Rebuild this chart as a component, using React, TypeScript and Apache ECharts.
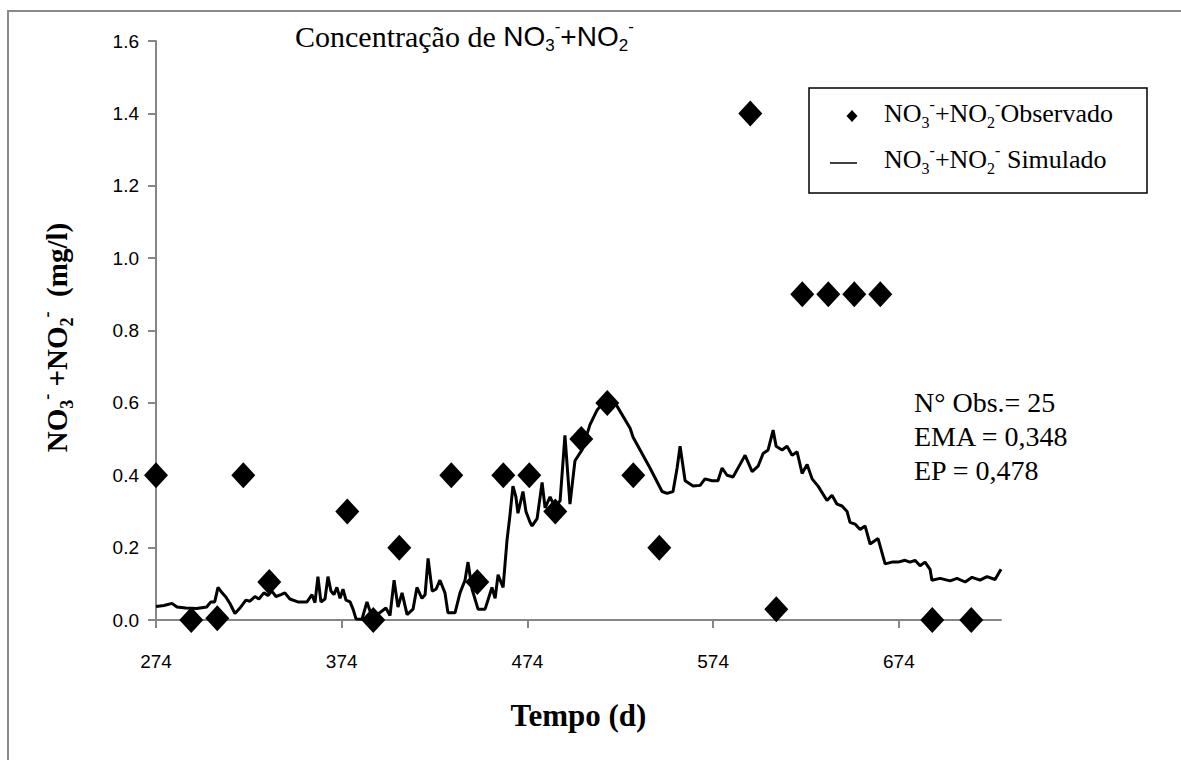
import React, { useEffect, useRef } from "react";
import * as echarts from "echarts";

// Observed NO3- + NO2- (mg/l) by day
const obsDays = [274, 293, 307, 321, 335, 377, 391, 405, 433, 447, 461, 475, 489, 503, 517, 531, 545, 594, 608, 622, 636, 650, 664, 692, 713];
const obsValues = [0.4, 0.0, 0.005, 0.4, 0.105, 0.3, 0.0, 0.2, 0.4, 0.105, 0.4, 0.4, 0.3, 0.5, 0.6, 0.4, 0.2, 1.4, 0.03, 0.9, 0.9, 0.9, 0.9, 0.0, 0.0];

// Simulated NO3- + NO2- (mg/l) by day
const simDays = [
  274.0, 278.3, 282.6, 285.3, 290.0, 295.9, 301.3, 303.5, 305.6, 307.4, 309.6, 311.7, 313.9, 316.5, 319.2, 322.4, 324.6, 327.3, 329.4, 332.1,
  334.3, 336.4, 338.6, 341.3, 343.4, 346.1, 350.4, 355.3, 358.0, 359.6, 361.2, 362.8, 365.0, 366.6, 368.2, 369.8, 371.4, 373.1, 374.7, 376.3,
  378.5, 380.1, 381.7, 384.9, 387.6, 389.2, 392.4, 395.7, 397.8, 400.0, 402.2, 404.3, 406.5, 409.2, 412.4, 414.5, 417.2, 418.9, 420.5, 422.7,
  424.8, 426.9, 429.6, 431.2, 435.0, 437.7, 440.4, 442.0, 444.2, 447.4, 451.2, 454.9, 456.6, 458.2, 460.9, 463.0, 464.6, 466.2, 467.8, 468.9,
  471.6, 473.2, 475.4, 476.5, 479.2, 481.9, 483.5, 486.2, 488.9, 491.6, 494.2, 496.9, 499.6, 503.4, 507.7, 511.5, 514.7, 518.0, 521.2, 529.3,
  530.9, 540.0, 546.5, 549.2, 552.4, 554.6, 556.2, 558.9, 563.2, 567.0, 569.6, 573.4, 576.6, 578.8, 581.5, 584.7, 588.5, 591.2, 595.0, 598.2,
  600.9, 603.6, 606.3, 607.9, 611.1, 613.8, 616.5, 619.2, 621.9, 624.6, 627.3, 630.5, 635.3, 638.0, 640.7, 643.4, 646.1, 647.7, 650.4, 653.1,
  655.8, 658.5, 662.8, 666.6, 670.3, 673.6, 677.3, 680.0, 682.7, 685.4, 688.1, 690.8, 691.8, 696.2, 701.6, 705.3, 709.7, 713.4, 717.7, 721.5,
  725.8, 729.0,
];
const simValues = [
  0.037, 0.040, 0.046, 0.036, 0.033, 0.032, 0.036, 0.050, 0.050, 0.090, 0.075, 0.063, 0.045, 0.018, 0.033, 0.055, 0.052, 0.065, 0.058, 0.075,
  0.068, 0.080, 0.065, 0.070, 0.075, 0.058, 0.050, 0.050, 0.070, 0.048, 0.120, 0.050, 0.058, 0.120, 0.080, 0.070, 0.090, 0.060, 0.085, 0.055,
  0.050, 0.030, 0.003, 0.002, 0.050, 0.025, 0.012, 0.025, 0.033, 0.012, 0.110, 0.036, 0.075, 0.015, 0.030, 0.090, 0.060, 0.070, 0.170, 0.080,
  0.085, 0.110, 0.075, 0.020, 0.020, 0.075, 0.110, 0.160, 0.085, 0.030, 0.030, 0.090, 0.060, 0.125, 0.090, 0.220, 0.290, 0.370, 0.340, 0.295,
  0.355, 0.300, 0.270, 0.260, 0.280, 0.380, 0.310, 0.340, 0.310, 0.330, 0.510, 0.320, 0.440, 0.470, 0.540, 0.580, 0.600, 0.608, 0.600, 0.530,
  0.505, 0.420, 0.355, 0.350, 0.355, 0.420, 0.480, 0.385, 0.370, 0.372, 0.390, 0.385, 0.385, 0.420, 0.400, 0.395, 0.430, 0.455, 0.410, 0.425,
  0.460, 0.470, 0.525, 0.480, 0.470, 0.480, 0.455, 0.465, 0.405, 0.430, 0.390, 0.370, 0.330, 0.345, 0.320, 0.315, 0.300, 0.270, 0.265, 0.250,
  0.260, 0.210, 0.225, 0.155, 0.160, 0.160, 0.165, 0.160, 0.165, 0.150, 0.160, 0.140, 0.110, 0.115, 0.108, 0.115, 0.105, 0.118, 0.110, 0.120,
  0.112, 0.140,
];

const xTicks = [274, 374, 474, 574, 674];
const xMin = 274;
const xMax = 729;
const yMin = 0;
const yMax = 1.6;
const yStep = 0.2;

const statLines = ["N° Obs.= 25", "EMA = 0,348", "EP = 0,478"];
const titleMain = "Concentração de ";
const xName = "Tempo (d)";

const SERIF = "'Liberation Serif', 'Times New Roman', serif";
const SANS = "'Liberation Sans', Arial, sans-serif";

function chemRich(size: number, family: string, weight: string = "normal", serifSize: number = size) {
  return {
    n: { fontFamily: family, fontSize: size, fontWeight: weight, lineHeight: Math.round(size * 1.3), color: "#000" },
    t: { fontFamily: SERIF, fontSize: serifSize, fontWeight: weight, lineHeight: Math.round(size * 1.3), color: "#000" },
    sub: { fontFamily: family, fontSize: Math.round(size * 0.62), fontWeight: weight, verticalAlign: "bottom", lineHeight: Math.round(size * 0.72), color: "#000" },
    sup: { fontFamily: family, fontSize: Math.round(size * 0.62), fontWeight: weight, verticalAlign: "top", lineHeight: Math.round(size * 0.62), color: "#000" },
  };
}

const chem = "{n|NO}{sub|3}{sup|-}{n|+NO}{sub|2}{sup|-}";

export default function App() {
  const ref = useRef<HTMLDivElement>(null);
  useEffect(() => {
    document.body.style.margin = "0";
    const chart = echarts.init(ref.current!, null, { renderer: "svg" });
    const option: any = {
      animation: false,
      backgroundColor: "#fff",
      grid: { left: 156, right: 180, top: 41, bottom: 140, containLabel: false, outerBoundsMode: "none" },
      xAxis: {
        type: "value",
        min: xMin,
        max: xMax,
        axisLine: { show: true, lineStyle: { color: "#868686", width: 2 } },
        axisTick: { show: true, customValues: xTicks, length: 8, lineStyle: { color: "#868686", width: 2 } },
        axisLabel: { customValues: xTicks, fontFamily: SANS, fontSize: 19, color: "#000", margin: 32 },
        splitLine: { show: false },
        name: xName,
        nameLocation: "middle",
        nameGap: 80,
        nameTextStyle: { fontFamily: SERIF, fontWeight: "bold", fontSize: 31, color: "#000" },
      },
      yAxis: {
        type: "value",
        min: yMin,
        max: yMax,
        interval: yStep,
        axisLine: { show: true, lineStyle: { color: "#868686", width: 2 } },
        axisTick: { show: true, length: 8, lineStyle: { color: "#868686", width: 2 } },
        axisLabel: { fontFamily: SANS, fontSize: 19, color: "#000", margin: 17, formatter: (v: number) => v.toFixed(1) },
        splitLine: { show: false },
        name: "{n|NO}{sub|3}{sup|-}{n| +NO}{sub|2}{sup|-}{n|  (mg/l)}",
        nameLocation: "middle",
        nameRotate: 90,
        nameGap: 80,
        nameTextStyle: { rich: chemRich(29, SERIF, "bold"), padding: [0, 14, 0, 0] },
      },
      series: [
        {
          name: "Simulado",
          type: "line",
          data: simDays.map((d, i) => [d, simValues[i]]),
          showSymbol: false,
          symbol: "none",
          lineStyle: { color: "#000", width: 3 },
          z: 2,
        },
        {
          name: "Observado",
          type: "scatter",
          data: obsDays.map((d, i) => [d, obsValues[i]]),
          symbol: "diamond",
          symbolSize: [24, 26],
          itemStyle: { color: "#000", opacity: 1 },
          z: 3,
        },
      ],
      graphic: [
        {
          type: "rect",
          silent: true,
          shape: { x: 8, y: 11, width: 1400, height: 1000 },
          style: { fill: "none", stroke: "#8a8a8a", lineWidth: 2 },
          z: 0,
        },
        {
          type: "text",
          x: 295,
          y: 36,
          style: {
            text: "{t|" + titleMain + "}" + chem,
            rich: chemRich(28, SANS, "normal", 30),
            align: "left",
            verticalAlign: "middle",
          },
        },
        {
          type: "rect",
          shape: { x: 809, y: 88, width: 338, height: 105 },
          style: { fill: "#fff", stroke: "#000", lineWidth: 1.5 },
          z: 10,
        },
        {
          type: "polygon",
          shape: { points: [[852, 110], [857.5, 116], [852, 122], [846.5, 116]] },
          style: { fill: "#000" },
          z: 11,
        },
        {
          type: "line",
          shape: { x1: 830, y1: 163, x2: 857, y2: 163 },
          style: { stroke: "#000", lineWidth: 1.5 },
          z: 11,
        },
        {
          type: "text",
          x: 884,
          y: 113,
          z: 11,
          style: { text: chem + "{n|Observado}", rich: chemRich(26, SERIF), align: "left", verticalAlign: "middle" },
        },
        {
          type: "text",
          x: 884,
          y: 159,
          z: 11,
          style: { text: chem + "{n| Simulado}", rich: chemRich(26, SERIF), align: "left", verticalAlign: "middle" },
        },
        {
          type: "text",
          x: 914,
          y: 385,
          z: 11,
          style: {
            text: statLines.join("\n"),
            fontFamily: SERIF,
            fontSize: 28,
            lineHeight: 34,
            fill: "#000",
            align: "left",
            verticalAlign: "top",
          },
        },
      ],
    };
    chart.setOption(option);
    return () => chart.dispose();
  }, []);
  return <div ref={ref} style={{ width: 1181, height: 760 }} />;
}
